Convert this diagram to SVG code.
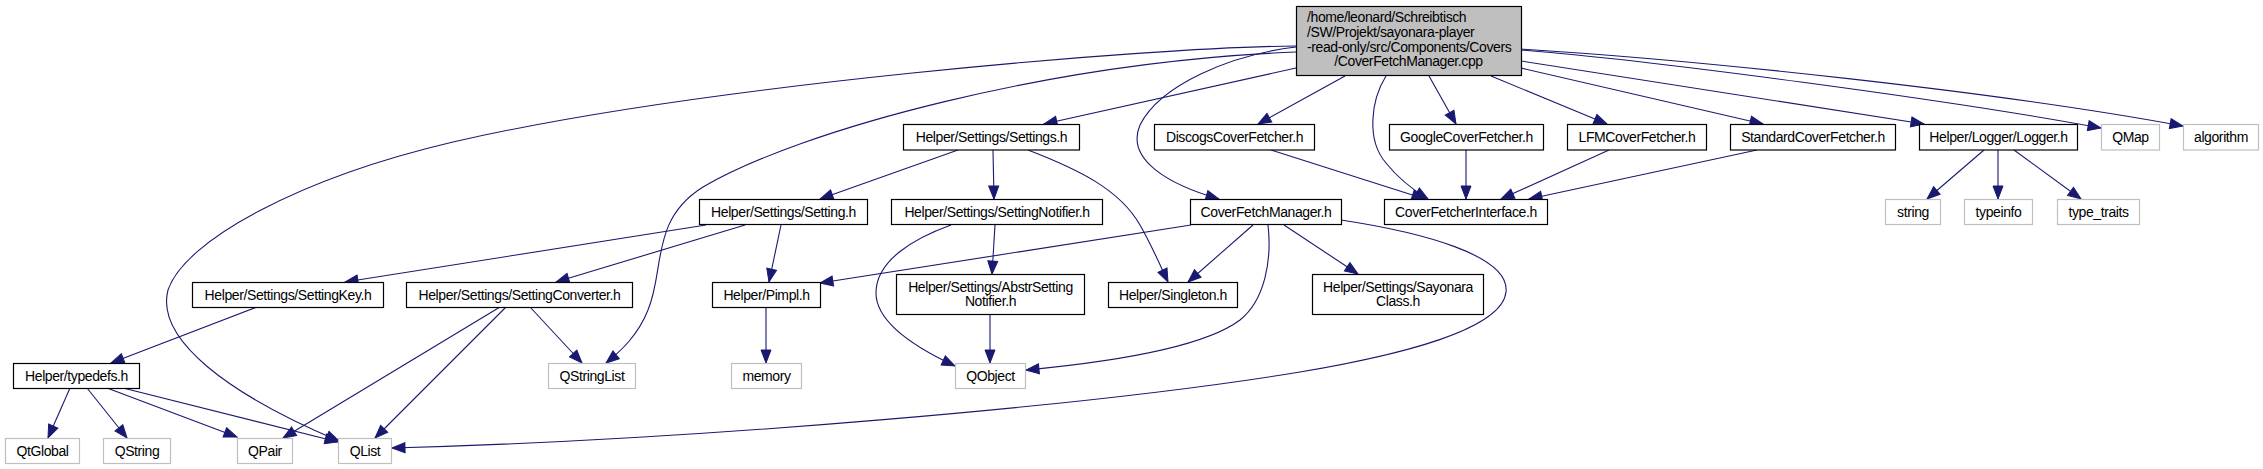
<svg xmlns="http://www.w3.org/2000/svg" width="2263" height="469" viewBox="0 0 2263 469">
<style>
text{font-family:"Liberation Sans",Arial,Helvetica,sans-serif;font-size:14px;letter-spacing:-0.4px;fill:#000;text-anchor:middle}
.n rect{fill:#fff;stroke:#000;stroke-width:1.2}
.g rect{fill:#fff;stroke:#bfbfbf;stroke-width:1.2}
.m rect{fill:#bfbfbf;stroke:#000;stroke-width:1.2}
.m text.l{text-anchor:start}
#edges path{fill:none;stroke:#191970;stroke-width:1.1;marker-end:url(#a)}
</style>
<defs>
<marker id="a" markerUnits="userSpaceOnUse" markerWidth="16" markerHeight="12" refX="14" refY="6" orient="auto" viewBox="0 0 16 12">
<path d="M1,1 L14,6 L1,11 z" fill="#191970" stroke="#191970" stroke-width="1"/>
</marker>
</defs>
<rect width="2263" height="469" fill="#fff"/>
<g id="edges">
<path d="M1296,46 C1150,47 700,85 453,142 C300,178 185,240 168,290 C155,340 230,395 339,441"/>
<path d="M1296,52 C1050,62 800,130 703,187 C650,220 665,270 648,310 C638,335 622,350 606,363"/>
<path d="M1296,68 L1044,124"/>
<path d="M1296,47 C1230,55 1160,85 1140,125 C1125,160 1170,185 1219,199"/>
<path d="M1345,76 L1258,124"/>
<path d="M1386,76 C1371,100 1366,140 1386,163 C1398,178 1410,188 1428,199"/>
<path d="M1429,76 L1456,124"/>
<path d="M1491,76 L1607,124"/>
<path d="M1521,68 L1763,124"/>
<path d="M1521,61 L1924,124"/>
<path d="M1521,50 C1650,60 1950,100 2101,128"/>
<path d="M1521,49 C1700,60 2000,92 2183,126"/>
<path d="M958,150 L820,199"/>
<path d="M993,150 L994,199"/>
<path d="M1028,150 C1080,170 1120,190 1140,225 C1153,248 1160,265 1168,282"/>
<path d="M706,225 L345,282"/>
<path d="M745,225 L556,282"/>
<path d="M781,225 L769,282"/>
<path d="M995,225 L992,274"/>
<path d="M951,225 C915,238 876,260 876,293 C876,320 910,345 955,366"/>
<path d="M990,314 L990,363"/>
<path d="M1191,225 L820,283"/>
<path d="M1253,225 L1188,282"/>
<path d="M1268,225 C1272,260 1265,300 1240,320 C1200,350 1100,363 1026,370"/>
<path d="M1284,225 L1358,274"/>
<path d="M1341,220 C1420,232 1510,255 1506,292 C1502,330 1400,355 1300,372 C1100,405 700,440 392,448"/>
<path d="M766,307 L766,363"/>
<path d="M257,307 L111,363"/>
<path d="M530,307 L582,363"/>
<path d="M500,307 L283,438"/>
<path d="M506,307 L375,438"/>
<path d="M70,388 L48,438"/>
<path d="M87,388 L127,438"/>
<path d="M107,388 L237,437"/>
<path d="M123,388 L338,442"/>
<path d="M1984,150 L1927,199"/>
<path d="M1998,150 L1998,199"/>
<path d="M2014,150 L2081,199"/>
<path d="M1271,150 L1425,199"/>
<path d="M1466,150 L1466,199"/>
<path d="M1609,150 L1501,199"/>
<path d="M1757,150 L1529,199"/>
</g>
<g id="main" class="m"><rect x="1296.5" y="6.5" width="225" height="69"/>
<text class="l" x="1307" y="22">/home/leonard/Schreibtisch</text>
<text class="l" x="1307" y="36.8">/SW/Projekt/sayonara-player</text>
<text class="l" x="1307" y="51.6">-read-only/src/Components/Covers</text>
<text x="1408.5" y="66.4">/CoverFetchManager.cpp</text></g>
<g id="settings" class="n"><rect x="903.5" y="124.5" width="176" height="25.5"/><text x="991.5" y="141.8">Helper/Settings/Settings.h</text></g>
<g id="discogs" class="n"><rect x="1154.5" y="124.5" width="160" height="25.5"/><text x="1234.5" y="141.8">DiscogsCoverFetcher.h</text></g>
<g id="google" class="n"><rect x="1389.5" y="124.5" width="154" height="25.5"/><text x="1466.5" y="141.8">GoogleCoverFetcher.h</text></g>
<g id="lfm" class="n"><rect x="1567.5" y="124.5" width="139" height="25.5"/><text x="1637" y="141.8">LFMCoverFetcher.h</text></g>
<g id="standard" class="n"><rect x="1730.5" y="124.5" width="165" height="25.5"/><text x="1813" y="141.8">StandardCoverFetcher.h</text></g>
<g id="logger" class="n"><rect x="1919.5" y="124.5" width="158" height="25.5"/><text x="1998.5" y="141.8">Helper/Logger/Logger.h</text></g>
<g id="qmap" class="g"><rect x="2101.5" y="124.5" width="58" height="25.5"/><text x="2130.5" y="141.8">QMap</text></g>
<g id="algorithm" class="g"><rect x="2183.5" y="124.5" width="75" height="25.5"/><text x="2221" y="141.8">algorithm</text></g>
<g id="setting" class="n"><rect x="699.5" y="199.5" width="168" height="25"/><text x="783.5" y="216.5">Helper/Settings/Setting.h</text></g>
<g id="settingnotifier" class="n"><rect x="891.5" y="199.5" width="211" height="25"/><text x="997" y="216.5">Helper/Settings/SettingNotifier.h</text></g>
<g id="coverfetchmanager_h" class="n"><rect x="1190.5" y="199.5" width="151" height="25"/><text x="1266" y="216.5">CoverFetchManager.h</text></g>
<g id="coverfetcherinterface" class="n"><rect x="1384.5" y="199.5" width="163" height="25"/><text x="1466" y="216.5">CoverFetcherInterface.h</text></g>
<g id="string" class="g"><rect x="1885.5" y="199.5" width="55" height="25"/><text x="1913" y="216.5">string</text></g>
<g id="typeinfo" class="g"><rect x="1964.5" y="199.5" width="68" height="25"/><text x="1998.5" y="216.5">typeinfo</text></g>
<g id="type_traits" class="g"><rect x="2057.5" y="199.5" width="82" height="25"/><text x="2098.5" y="216.5">type_traits</text></g>
<g id="settingkey" class="n"><rect x="192.5" y="282.5" width="191" height="25"/><text x="288" y="299.5">Helper/Settings/SettingKey.h</text></g>
<g id="settingconverter" class="n"><rect x="406.5" y="282.5" width="226" height="25"/><text x="519.5" y="299.5">Helper/Settings/SettingConverter.h</text></g>
<g id="pimpl" class="n"><rect x="712.5" y="282.5" width="108" height="25"/><text x="766.5" y="299.5">Helper/Pimpl.h</text></g>
<g id="abstrsettingnotifier" class="n"><rect x="896.5" y="274.5" width="188" height="40"/><text x="990.5" y="291.5">Helper/Settings/AbstrSetting</text><text x="990.5" y="306">Notifier.h</text></g>
<g id="singleton" class="n"><rect x="1108.5" y="282.5" width="129" height="25"/><text x="1173" y="299.5">Helper/Singleton.h</text></g>
<g id="sayonaraclass" class="n"><rect x="1312.5" y="274.5" width="171" height="40"/><text x="1398" y="291.5">Helper/Settings/Sayonara</text><text x="1398" y="306">Class.h</text></g>
<g id="typedefs" class="n"><rect x="13.5" y="363.5" width="126" height="25"/><text x="76.5" y="380.5">Helper/typedefs.h</text></g>
<g id="qstringlist" class="g"><rect x="548.5" y="363.5" width="87" height="25"/><text x="592" y="380.5">QStringList</text></g>
<g id="memory" class="g"><rect x="731.5" y="363.5" width="70" height="25"/><text x="766.5" y="380.5">memory</text></g>
<g id="qobject" class="g"><rect x="955.5" y="363.5" width="70" height="25"/><text x="990.5" y="380.5">QObject</text></g>
<g id="qtglobal" class="g"><rect x="5.5" y="438.5" width="74" height="25"/><text x="42.5" y="455.5">QtGlobal</text></g>
<g id="qstring" class="g"><rect x="103.5" y="438.5" width="67" height="25"/><text x="137" y="455.5">QString</text></g>
<g id="qpair" class="g"><rect x="237.5" y="438.5" width="55" height="25"/><text x="265" y="455.5">QPair</text></g>
<g id="qlist" class="g"><rect x="338.5" y="438.5" width="53" height="25"/><text x="365" y="455.5">QList</text></g>
</svg>
